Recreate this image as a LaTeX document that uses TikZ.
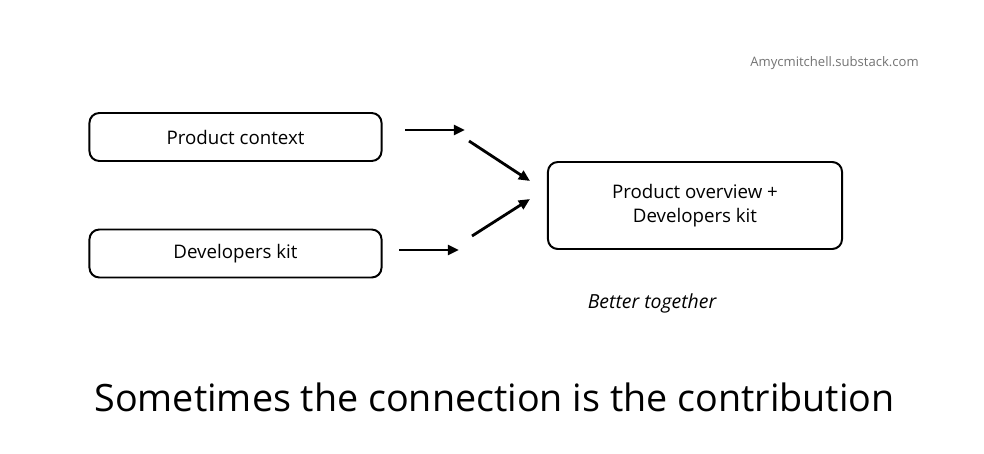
\documentclass[tikz,border=0pt]{standalone}
\usepackage{fontspec}
\setmainfont{Open Sans}
\usetikzlibrary{arrows.meta}
\usetikzlibrary{positioning}

\begin{document}
\begin{tikzpicture}[x=0.025cm, y=-0.025cm,
	box/.style={draw, line width=1.4pt, rounded corners=7pt, minimum width=7.3cm, minimum height=1.2cm, align=center, font=\fontsize{13.3}{17}\selectfont},
	arr/.style={line width=2pt, -{Triangle[length=8pt, width=7pt]}}]
	  \useasboundingbox (0,0) rectangle (984,453);
	
	  % Draw the input boxes
	  \node[box] (context) at (235.5,137) {Product context};
	  \node[box] (kit) at (235.5,253.5) {Developers kit};
	
	  % Draw the combined box
	  \node[box, minimum width=7.35cm, minimum height=2.175cm] (combined) at (695,205.5) {Product overview +\\Developers kit};
	
	  % Arrow end points
	  \coordinate (a1) at (405,130);
	  \coordinate (a2) at (465,130);
	  \coordinate (b1) at (469,141);
	  \coordinate (b2) at (530,181);
	  \coordinate (c1) at (472,236);
	  \coordinate (c2) at (530,199);
	  \coordinate (d1) at (399,250);
	  \coordinate (d2) at (459,250);
	
	  % Draw arrows
	  \draw[arr] (a1) -- (a2);
	  \draw[arr] (b1) -- (b2);
	  \draw[arr] (c1) -- (c2);
	  \draw[arr] (d1) -- (d2);
	
	  % Labels
	  \node[font=\fontsize{13.8}{17}\selectfont\itshape] (together) at (652,303) {Better together};
	  \node[font=\fontsize{26.8}{32}\selectfont] (title) at (494.5,397) {Sometimes the connection is the contribution};
	  \node[text=black!55, font=\fontsize{9.3}{11}\selectfont] (source) at (834.5,63) {Amycmitchell.substack.com};
	\end{tikzpicture}
\end{document}
